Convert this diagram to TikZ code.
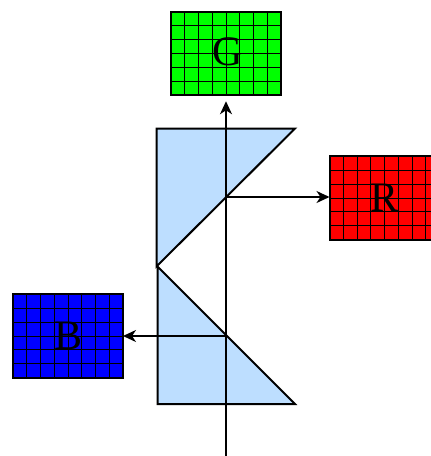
\documentclass[tikz,border=0pt]{standalone}
\usepackage{fontspec}
\setmainfont{Liberation Serif}
\usetikzlibrary{arrows.meta}
\definecolor{prism}{HTML}{BDDEFF}
\newcommand{\sensorlabel}[3]{\hspace*{#1}\raisebox{#2}{#3}}
\newcommand{\sensorgrid}[1]{%
  \foreach \i in {1,...,7}
    \draw[gridline] ([xshift={\i*13.75pt}]#1.north west) -- ([xshift={\i*13.75pt}]#1.south west);
  \foreach \j in {1,...,5}
    \draw[gridline] ([yshift={-\j*13.917pt}]#1.north west) -- ([yshift={-\j*13.917pt}]#1.north east);
}
\tikzset{
  x=1pt,y=-1pt,
  gridline/.style={draw=black,line width=1pt},
  gridbox/.style={draw=black,line width=2pt,minimum width=110pt,minimum height=83.5pt,
    inner sep=0pt,outer sep=0pt,text=black,font=\fontsize{42}{42}\selectfont},
  prismface/.style={draw=black,line width=2pt,fill=prism,line join=miter},
  ray/.style={draw=black,line width=1.8pt,-{Stealth[length=13pt,width=12pt,inset=4pt]}}
}
\begin{document}
\begin{tikzpicture}
\clip (0,0) rectangle (431,456);
\path[use as bounding box] (0,0) rectangle (431,456);
\draw[prismface] (156.5,128.5) -- (295,128.5) -- (156.5,266.5) -- cycle;
\draw[prismface] (157.5,266.5) -- (295,404) -- (157.5,404) -- cycle;
\node[gridbox,fill={rgb,255:red,0;green,255;blue,0}] (G) at (226,53.5) {\sensorlabel{3pt}{4pt}{G}};
\node[gridbox,fill=red] (R) at (384.5,198) {\sensorlabel{0pt}{1pt}{R}};
\node[gridbox,fill=blue] (B) at (68,336) {\sensorlabel{2pt}{1pt}{B}};
\sensorgrid{G}
\sensorgrid{R}
\sensorgrid{B}
\coordinate (entry) at (226,456);
\coordinate (hitR) at (226,197);
\coordinate (hitB) at (226,336);
\draw[ray,shorten >=6pt] (entry) -- (G.south);
\draw[ray] (hitR) -- (R.west |- hitR);
\draw[ray] (hitB) -- (B.east |- hitB);
\end{tikzpicture}
\end{document}
